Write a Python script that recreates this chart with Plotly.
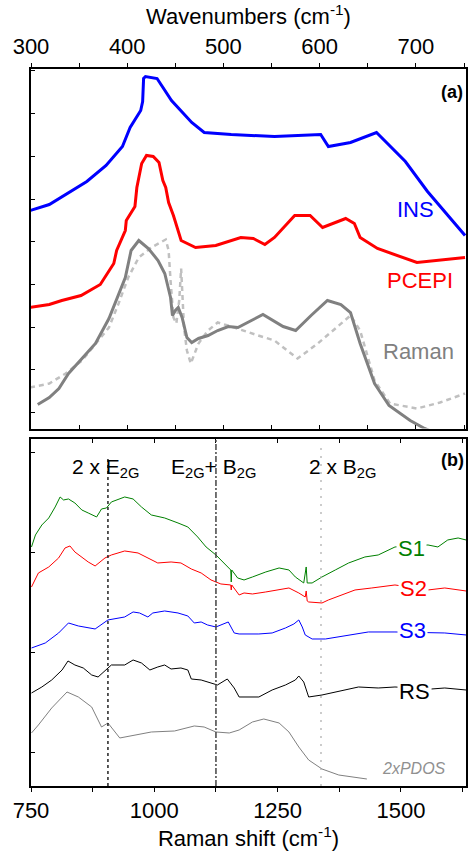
import plotly.graph_objects as go

# ---------------- Panel (a): wavenumbers (cm-1) vs intensity (a.u.) ----------------
ins_x = [299, 319, 358, 378, 395, 403, 414, 416, 417, 419, 431, 446, 467, 480, 508, 553, 601, 609, 632, 659, 689, 712, 751]
ins_y = [218, 224, 247, 263, 282, 301, 318, 327, 350, 352, 350, 328, 306, 296, 294, 292, 294, 282, 286, 296, 267, 237, 193]

pcepi_x = [299, 319, 332, 352, 372, 386, 389, 398, 399, 408, 410, 415, 420, 427, 433, 437, 440, 443, 448, 456, 471,
           492, 518, 531, 543, 553, 574, 590, 603, 627, 636, 642, 660, 701, 751]
pcepi_y = [121, 124, 128, 133, 144, 165, 178, 198, 208, 222, 241, 265, 273, 272, 266, 248, 241, 226, 213, 188, 181,
           183, 191, 190, 184, 191, 213, 213, 201, 210, 205, 191, 180, 166, 171]

raman_x = [307, 319, 329, 339, 353, 367, 381, 398, 404, 412, 422, 432, 439, 445, 447, 450, 453, 457, 462, 467,
           474, 484, 494, 505, 515, 541, 562, 575, 591, 608, 622, 632, 642, 657, 672, 694, 709, 727, 752]
raman_y = [24, 31, 40, 55, 70, 85, 110, 151, 178, 188, 180, 168, 155, 131, 113, 118, 121, 111, 91, 86,
           90, 93, 98, 102, 101, 114, 102, 98, 113, 128, 124, 116, 85, 45, 23, 8, 0, -7, -13]

calc_x = [299, 319, 336, 353, 370, 381, 391, 401, 412, 425, 440, 443, 445, 448, 451, 454, 456, 457, 459, 462, 466,
          474, 484, 494, 508, 536, 553, 577, 598, 632, 642, 657, 673, 701, 725, 751]
calc_y = [41, 45, 55, 68, 88, 101, 125, 151, 171, 181, 189, 178, 148, 111, 105, 128, 160, 143, 101, 78, 65,
          85, 98, 106, 102, 93, 88, 70, 85, 113, 98, 48, 25, 20, 26, 35]

# ---------------- Panel (b): Raman shift (cm-1) vs intensity (a.u.) ----------------
s1_x = [751, 759, 772, 786, 799, 809, 816, 826, 839, 853, 866, 883, 893, 903, 913, 940, 957, 974, 994, 1021, 1048,
        1068, 1088, 1105, 1125, 1142, 1155, 1156, 1157, 1169, 1182, 1199, 1226, 1253, 1273, 1286, 1303, 1308, 1310,
        1320, 1340, 1367, 1394, 1427, 1454, 1488, 1555, 1575, 1595, 1616, 1632]
s1_y = [239, 251, 261, 268, 279, 289, 286, 287, 283, 276, 273, 269, 277, 278, 284, 289, 287, 279, 271, 268, 263,
        259, 249, 239, 231, 223, 216, 204, 216, 208, 206, 209, 214, 218, 216, 209, 203, 219, 203,
        203, 209, 216, 223, 229, 231, 239, 241, 239, 246, 248, 246]

s2_x = [751, 765, 786, 806, 819, 829, 839, 853, 866, 880, 900, 913, 940, 967, 987, 1007, 1034, 1054, 1075, 1095,
        1115, 1135, 1155, 1156, 1157, 1172, 1182, 1199, 1226, 1253, 1273, 1293, 1306, 1308, 1310, 1313, 1340, 1353,
        1374, 1407, 1441, 1488, 1555, 1589, 1632]
s2_y = [199, 213, 219, 228, 238, 240, 234, 229, 224, 220, 228, 231, 235, 233, 228, 223, 224, 223, 217, 213,
        206, 202, 201, 196, 201, 191, 193, 192, 194, 196, 198, 193, 189, 195, 185, 184, 183, 186,
        190, 196, 198, 201, 196, 198, 195]

s3_x = [751, 779, 806, 826, 846, 880, 906, 940, 957, 970, 987, 997, 1021, 1048, 1068, 1081, 1095, 1108, 1125, 1138,
        1150, 1162, 1172, 1212, 1239, 1266, 1283, 1293, 1300, 1306, 1320, 1347, 1374, 1407, 1434, 1488, 1555, 1589, 1632]
s3_y = [138, 143, 153, 163, 160, 157, 166, 169, 174, 173, 169, 173, 175, 173, 170, 163, 164, 161, 159, 162,
        164, 153, 152, 152, 153, 158, 162, 166, 159, 151, 147, 147, 149, 152, 154, 154, 153, 153, 151]

rs_x = [751, 772, 792, 813, 825, 839, 856, 873, 886, 903, 913, 940, 957, 974, 991, 1007, 1021, 1034, 1054, 1068,
        1075, 1095, 1115, 1128, 1148, 1162, 1172, 1182, 1212, 1239, 1266, 1286, 1293, 1303, 1313, 1340, 1374, 1414,
        1454, 1488, 1562, 1589, 1632]
rs_y = [93, 99, 106, 116, 125, 121, 118, 111, 109, 116, 121, 121, 126, 123, 116, 119, 121, 117, 118, 116,
        107, 106, 103, 101, 107, 98, 89, 89, 89, 96, 101, 106, 110, 104, 89, 91, 95, 99,
        98, 99, 97, 98, 96]

pdos_x = [751, 765, 792, 823, 846, 873, 893, 906, 930, 960, 994, 1041, 1081, 1101, 1125, 1152, 1172, 1199, 1222,
          1253, 1273, 1293, 1313, 1340, 1374, 1431]
pdos_y = [53, 61, 78, 94, 89, 79, 59, 63, 48, 51, 54, 55, 60, 59, 54, 53, 56, 64, 67,
          63, 54, 39, 26, 17, 11, 7]

mode_pos = [906, 1125, 1338]            # 2xE2G, E2G+B2G, 2xB2G
mode_top = [328, 347, 343]

FONT = "Arial, Liberation Sans, sans-serif"

fig = go.Figure()

# panel (a)
fig.add_trace(go.Scatter(x=calc_x, y=calc_y, mode="lines", xaxis="x2", yaxis="y2",
                         line=dict(color="#c0c0c0", width=2.5, dash="5px,4px")))
fig.add_trace(go.Scatter(x=raman_x, y=raman_y, mode="lines", xaxis="x2", yaxis="y2",
                         line=dict(color="#808080", width=3)))
fig.add_trace(go.Scatter(x=pcepi_x, y=pcepi_y, mode="lines", xaxis="x2", yaxis="y2",
                         line=dict(color="#ff0000", width=3)))
fig.add_trace(go.Scatter(x=ins_x, y=ins_y, mode="lines", xaxis="x2", yaxis="y2",
                         line=dict(color="#0000ff", width=3)))

# panel (b)
for xs, ys, col in [(s1_x, s1_y, "#008000"), (s2_x, s2_y, "#ff0000"), (s3_x, s3_y, "#0000ff"),
                    (rs_x, rs_y, "#000000"), (pdos_x, pdos_y, "#808080")]:
    fig.add_trace(go.Scatter(x=xs, y=ys, mode="lines", xaxis="x", yaxis="y",
                             line=dict(color=col, width=1)))

# dummy traces for overlay axes
fig.add_trace(go.Scatter(x=[None], y=[None], xaxis="x3", yaxis="y"))
fig.add_trace(go.Scatter(x=[None], y=[None], xaxis="x4", yaxis="y2"))

axis_common = dict(showline=True, linecolor="black", linewidth=1.5, showgrid=False, zeroline=False,
                   tickcolor="black", ticklen=4, tickwidth=1)

fig.update_layout(
    width=469, height=852,
    margin=dict(l=31, r=1, t=69, b=66),
    paper_bgcolor="white", plot_bgcolor="white",
    showlegend=False,
    font=dict(family=FONT, size=22, color="black"),
    xaxis=dict(domain=[0, 1], range=[750, 1632], anchor="y", side="bottom", ticks="outside",
               tick0=750, dtick=250, tickfont=dict(size=22),
               minor=dict(dtick=125, tick0=750, ticks="outside", ticklen=4, tickcolor="black"),
               title=dict(text="Raman shift (cm<sup>-1</sup>)", font=dict(size=22), standoff=4),
               **axis_common),
    xaxis3=dict(range=[750, 1632], overlaying="x", anchor="y", side="top", ticks="inside",
                tick0=750, dtick=250, showticklabels=False,
                minor=dict(dtick=125, tick0=750, ticks="inside", ticklen=4, tickcolor="black"),
                **axis_common),
    yaxis=dict(domain=[0, 0.4833], range=[0, 346.5], anchor="x", ticks="inside", tick0=33, dtick=100,
               showticklabels=False, mirror=True, **axis_common),
    xaxis2=dict(domain=[0, 1], range=[300, 752], anchor="y2", side="top", ticks="outside",
                tick0=300, dtick=100, tickfont=dict(size=22),
                minor=dict(dtick=50, tick0=300, ticks="outside", ticklen=4, tickcolor="black"),
                title=dict(text="Wavenumbers (cm<sup>-1</sup>)", font=dict(size=22), standoff=4),
                **axis_common),
    xaxis4=dict(range=[300, 752], overlaying="x2", anchor="y2", side="bottom", ticks="inside",
                tick0=300, dtick=100, showticklabels=False,
                minor=dict(dtick=50, tick0=300, ticks="inside", ticklen=4, tickcolor="black"),
                **axis_common),
    yaxis2=dict(domain=[0.4986, 1], range=[0, 359.5], anchor="x2", ticks="inside", tick0=16, dtick=42.7,
                showticklabels=False, mirror=True, **axis_common),
)

# mode lines in panel (b)
dash_styles = [dict(color="#222222", width=1.5, dash="3px,3px"),
               dict(color="#444444", width=1.5, dash="6px,2px,2px,2px"),
               dict(color="#aaaaaa", width=1.2, dash="2px,6px")]
for xv, top, ls in zip(mode_pos, mode_top, dash_styles):
    fig.add_shape(type="line", xref="x", yref="y", x0=xv, x1=xv, y0=0, y1=top, line=ls)

ann = []
# panel (a) labels
ann.append(dict(text="INS", x=700, y=219, xref="x2", yref="y2", font=dict(color="#0000ff", size=22)))
ann.append(dict(text="PCEPI", x=704, y=148, xref="x2", yref="y2", font=dict(color="#ff0000", size=22)))
ann.append(dict(text="Raman", x=703, y=77, xref="x2", yref="y2", font=dict(color="#808080", size=22)))
ann.append(dict(text="<b>(a)</b>", x=0.968, y=0.968, xref="paper", yref="paper", font=dict(size=18)))
# panel (b) labels
ann.append(dict(text="2 x E<sub>2G</sub>", x=902, y=318, xref="x", yref="y", font=dict(size=21)))
ann.append(dict(text="E<sub>2G</sub>+ B<sub>2G</sub>", x=1120, y=318, xref="x", yref="y", font=dict(size=21)))
ann.append(dict(text="2 x B<sub>2G</sub>", x=1382, y=318, xref="x", yref="y", font=dict(size=21)))
ann.append(dict(text="<b>(b)</b>", x=0.970, y=0.4547, xref="paper", yref="paper", font=dict(size=18)))
for txt, xv, yv, col in [("S1", 1522, 237, "#008000"), ("S2", 1525, 197, "#ff0000"),
                         ("S3", 1524, 155, "#0000ff"), ("RS", 1528, 94, "#000000")]:
    ann.append(dict(text=txt, x=xv, y=yv, xref="x", yref="y", font=dict(color=col, size=22),
                    bgcolor="white", borderpad=1))
ann.append(dict(text="<i>2xPDOS</i>", x=1526, y=17, xref="x", yref="y", font=dict(color="#909090", size=16)))
for a in ann:
    a["showarrow"] = False
    a["xanchor"] = "center"
    a["yanchor"] = "middle"
fig.update_layout(annotations=ann)

fig.write_html("out.html")
